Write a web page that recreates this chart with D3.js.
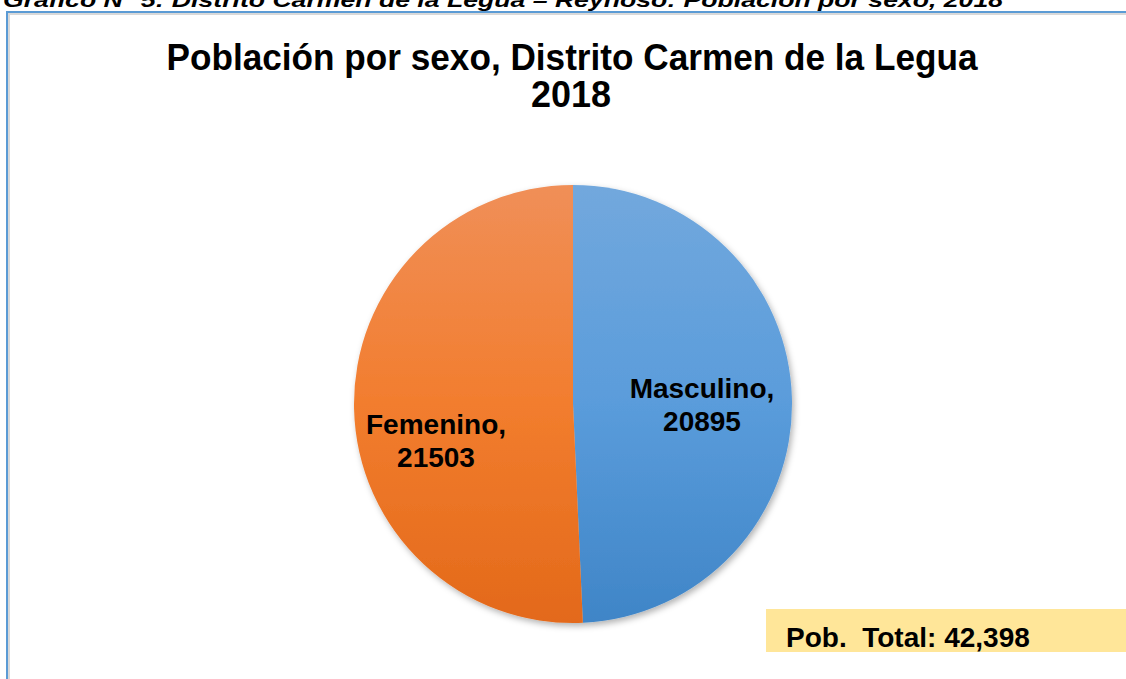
<!DOCTYPE html>
<html>
<head>
<meta charset="utf-8">
<script src="https://cdn.jsdelivr.net/npm/d3@7"></script>
<style>
  body { margin: 0; background: #fff; }
  svg { display: block; font-family: "Liberation Sans", Arial, sans-serif; }
</style>
</head>
<body>
<div id="chart"></div>
<script>
// Data
const categories = ["Masculino", "Femenino"];
const values = [20895, 21503];
const caption = "Gráfico N° 5: Distrito Carmen de la Legua – Reynoso: Población por sexo, 2018";
const titleLines = ["Población por sexo, Distrito Carmen de la Legua", "2018"];
const totalLabel = "Pob.  Total: ";

// Set dimensions
const width = 1126;
const height = 679;
const cx = 573, cy = 404, radius = 219;

const svg = d3.select("#chart")
  .append("svg")
  .attr("width", width)
  .attr("height", height);

const defs = svg.append("defs");

// Gradients per slice (light at top, darker at bottom), coords relative to pie centre
const gradColors = {
  Masculino: ["#72a8dd", "#5a9cdb", "#3f85c7"],
  Femenino: ["#f08f58", "#f27d2e", "#e3691a"]
};
categories.forEach(c => {
  const g = defs.append("linearGradient")
    .attr("id", "grad-" + c)
    .attr("gradientUnits", "userSpaceOnUse")
    .attr("x1", 0).attr("y1", -radius)
    .attr("x2", 0).attr("y2", radius);
  g.append("stop").attr("offset", "0%").attr("stop-color", gradColors[c][0]);
  g.append("stop").attr("offset", "50%").attr("stop-color", gradColors[c][1]);
  g.append("stop").attr("offset", "100%").attr("stop-color", gradColors[c][2]);
});

const shadow = defs.append("filter")
  .attr("id", "shadow")
  .attr("x", "-10%").attr("y", "-10%")
  .attr("width", "120%").attr("height", "120%");
shadow.append("feDropShadow")
  .attr("dx", 2).attr("dy", 3)
  .attr("stdDeviation", 3)
  .attr("flood-color", "#000")
  .attr("flood-opacity", 0.3);

// Caption cut off at top of the page
svg.append("text")
  .attr("x", 3)
  .attr("y", 7)
  .attr("font-size", 21)
  .attr("font-weight", "bold")
  .attr("font-style", "italic")
  .attr("textLength", 1000)
  .attr("lengthAdjust", "spacingAndGlyphs")
  .text(caption);

// Chart frame
svg.append("rect")
  .attr("x", 9).attr("y", 14)
  .attr("width", 1300).attr("height", 900)
  .attr("fill", "none")
  .attr("stroke", "#d9d9d9")
  .attr("stroke-width", 2);
svg.append("rect")
  .attr("x", 7).attr("y", 12)
  .attr("width", 1300).attr("height", 900)
  .attr("fill", "none")
  .attr("stroke", "#5b9bd5")
  .attr("stroke-width", 2);

// Title
const title = svg.append("text")
  .attr("text-anchor", "middle")
  .attr("font-size", 36)
  .attr("font-weight", "bold")
  .attr("fill", "#000");
title.append("tspan").attr("x", 572).attr("y", 70)
  .attr("textLength", 811).attr("lengthAdjust", "spacingAndGlyphs")
  .text(titleLines[0]);
title.append("tspan").attr("x", 571).attr("y", 107)
  .attr("textLength", 80).attr("lengthAdjust", "spacingAndGlyphs")
  .text(titleLines[1]);

// Pie
const data = categories.map((c, i) => ({ cat: c, value: values[i] }));
const pie = d3.pie().sort(null).value(d => d.value);
const arc = d3.arc().innerRadius(0).outerRadius(radius);

const g = svg.append("g")
  .attr("transform", `translate(${cx},${cy})`);

g.append("g")
  .attr("filter", "url(#shadow)")
  .selectAll("path")
  .data(pie(data))
  .enter()
  .append("path")
  .attr("d", arc)
  .attr("fill", d => `url(#grad-${d.data.cat})`);

// Data labels
const labelPos = {
  Masculino: [702 - cx, 398 - cy],
  Femenino: [436 - cx, 434 - cy]
};
g.selectAll("text.lbl")
  .data(pie(data))
  .enter()
  .append("text")
  .attr("class", "lbl")
  .attr("text-anchor", "middle")
  .attr("font-size", 28)
  .attr("font-weight", "bold")
  .attr("fill", "#000")
  .each(function(d) {
    const p = labelPos[d.data.cat];
    const t = d3.select(this);
    t.append("tspan").attr("x", p[0]).attr("y", p[1]).text(d.data.cat + ",");
    t.append("tspan").attr("x", p[0]).attr("y", p[1] + 33).text(d.data.value);
  });

// Total box
svg.append("rect")
  .attr("x", 766).attr("y", 609)
  .attr("width", width - 766).attr("height", 43)
  .attr("fill", "#ffe699");

svg.append("text")
  .attr("x", 786)
  .attr("y", 647)
  .attr("font-size", 28)
  .attr("font-weight", "bold")
  .attr("fill", "#000")
  .attr("xml:space", "preserve")
  .style("white-space", "pre")
  .text(totalLabel + d3.format(",")(d3.sum(values)));
</script>
</body>
</html>
